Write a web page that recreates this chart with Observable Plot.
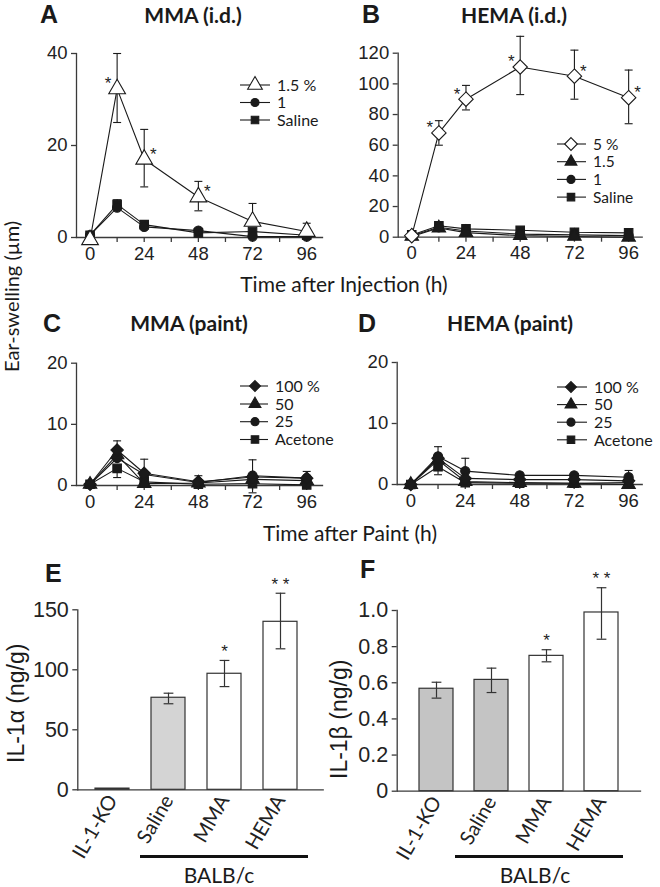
<!DOCTYPE html>
<html><head><meta charset="utf-8">
<script src="https://cdn.jsdelivr.net/npm/d3@7"></script>
<script src="https://cdn.jsdelivr.net/npm/@observablehq/plot@0.6"></script>
<style>
body{margin:0;background:#fff;}
#fig{position:relative;width:660px;height:887px;overflow:hidden;background:#fff;}
</style></head><body><div id="fig"></div>
<script>
// ---------- DATA ----------
const hours = [0, 12, 24, 48, 72, 96];
const xTicks = [0, 12, 24, 36, 48, 60, 72, 84, 96];

// A: MMA (i.d.)
const A_names = ["1.5 %", "1", "Saline"];
const A_15 = [-0.5, 32.3, 17.0, 8.8, 3.5, 1.3];
const A_15_hi = [null, 40, 23.5, 12.2, 7.4, 3.1];
const A_15_lo = [null, 25, 11, 5.8, null, null];
const A_1 = [0.5, 6.5, 2.3, 1.5, 0.2, 0.2];
const A_1_hi = [null, 7.6, 3.2, null, null, null];
const A_sal = [0.5, 7.2, 2.8, 1.0, 1.3, 0.5];
const A_sal_hi = [null, 8.2, null, null, null, null];
const A_sigLeft = [12], A_sigRight = [24, 48];
const A_yTicks = [0, 20, 40];

// B: HEMA (i.d.)
const B_names = ["5 %", "1.5", "1", "Saline"];
const B_5 = [1, 68, 90, 111, 105, 91];
const B_5_hi = [null, 76, 99, 131, 122, 109];
const B_5_lo = [null, 60, 83, 93, 90, 74];
const B_15 = [0.5, 6.0, 3.0, 1.0, 0.5, 0];
const B_1 = [1, 6.5, 4.0, 2.0, 1.5, 1.0];
const B_sal = [1.5, 7.5, 5.4, 4.5, 3.2, 2.8];
const B_sigLeft = [12, 24, 48], B_sigRight = [72, 96];
const B_yTicks = [0, 20, 40, 60, 80, 100, 120];

// C: MMA (paint)
const C_names = ["100 %", "50", "25", "Acetone"];
const C_100 = [0.2, 5.8, 2.0, 0.6, 1.4, 1.2];
const C_100_hi = [null, 7.3, 4.3, 1.6, 4.2, 2.3];
const C_50 = [0.2, 5.0, 0.3, 0.4, 1.0, 0.8];
const C_25 = [0.2, 4.5, 1.8, 0.5, 1.6, 1.2];
const C_ace = [0.2, 2.8, 0.6, 0.2, 0.3, 0.1];
const C_ace_lo = [null, 1.3, null, null, -1.2, null];

// D: HEMA (paint)
const D_names = ["100 %", "50", "25", "Acetone"];
const D_100 = [0, 4.3, 1.0, 0.8, 0.8, 0.6];
const D_100_hi = [null, 6.2, null, null, null, null];
const D_50 = [0, 4.0, 0.5, 0.3, 0.2, 0];
const D_25 = [0, 4.6, 2.2, 1.5, 1.5, 1.2];
const D_25_hi = [null, null, 4.3, null, null, 2.3];
const D_ace = [0, 2.9, 0.3, 0.2, 0.2, 0.3];
const D_ace_lo = [null, 1.6, null, null, null, null];
const CD_yTicks = [0, 10, 20];

// E, F: cytokines
const groups = ["IL-1-KO", "Saline", "MMA", "HEMA"];
const treatment = ["control", "control", "monomer", "monomer"];
const E_val = [1, 76.7, 96.7, 140];
const E_lo = [null, 71.7, 86, 117.5];
const E_hi = [null, 80.5, 107.8, 163.8];
const E_sig = ["", "", "*", "* *"];
const E_yTicks = [0, 50, 100, 150];
const F_val = [0.567, 0.616, 0.749, 0.989];
const F_lo = [0.515, 0.546, 0.716, 0.841];
const F_hi = [0.603, 0.681, 0.783, 1.126];
const F_sig = ["", "", "*", "* *"];
const F_yTicks = [0, 0.2, 0.4, 0.6, 0.8, 1.0];

// ---------- STYLE ----------
const AX = "#3a3a3a", LN = "#1a1a1a";
const TICKF = "'Liberation Sans', Arial, sans-serif";
const LABF = "Lato, 'Open Sans', sans-serif";
const capSym = {draw(ctx, size){ const w = Math.sqrt(size)/2; ctx.moveTo(-w,0); ctx.lineTo(w,0); }};
const SYM = {
  triOpen: {symbol:"triangle", r:6.2, fill:"#fff"},
  tri: {symbol:"triangle", r:5, fill:LN},
  circ: {symbol:"circle", r:4.6, fill:LN},
  sq: {symbol:"square", r:4.8, fill:LN},
  diaOpen: {symbol:"diamond2", r:6.5, fill:"#fff"},
  dia: {symbol:"diamond2", r:5.6, fill:LN}
};
const D3SYM = {triangle:d3.symbolTriangle, circle:d3.symbolCircle, square:d3.symbolSquare, diamond2:d3.symbolDiamond2};

const fig = document.getElementById("fig");
function place(el, left, top){ el.style.position="absolute"; el.style.left=left+"px"; el.style.top=top+"px"; fig.appendChild(el); }

function tcPanel(o){
  const marks = [
    Plot.frame({anchor:"left", stroke:AX, strokeWidth:1.3}),
    Plot.frame({anchor:"bottom", stroke:AX, strokeWidth:1.3}),
    Plot.axisY({ticks:o.yTicks, tickSize:5, tickPadding:4, label:null, fontSize:18.5, stroke:AX, strokeWidth:1.3}),
    Plot.axisX({ticks:xTicks, tickSize:5, tickPadding:4, label:null, fontSize:18.5, stroke:AX, strokeWidth:1.3,
      tickFormat: d => d % 24 === 0 ? String(d) : ""})
  ];
  const all = o.series.map(s => ({s, rows: hours.map((t,i) => ({t, v:s.v[i]}))}));
  all.forEach(({rows}) => marks.push(Plot.line(rows, {x:"t", y:"v", stroke:LN, strokeWidth:1.1})));
  all.forEach(({s}) => {
    const err = [], caps = [];
    hours.forEach((t,i) => {
      const lo = s.lo ? s.lo[i] : null, hi = s.hi ? s.hi[i] : null;
      if (lo != null || hi != null) {
        err.push({t, y1: lo != null ? lo : s.v[i], y2: hi != null ? hi : s.v[i]});
        if (lo != null) caps.push({t, y:lo});
        if (hi != null) caps.push({t, y:hi});
      }
    });
    marks.push(Plot.ruleX(err, {x:"t", y1:"y1", y2:"y2", stroke:LN, strokeWidth:1.1}));
    marks.push(Plot.dot(caps, {x:"t", y:"y", symbol:capSym, r:4.5, fill:"none", stroke:LN, strokeWidth:1.1}));
  });
  all.slice().reverse().forEach(({s, rows}) => marks.push(Plot.dot(rows, {x:"t", y:"v", symbol:s.m.symbol, r:s.m.r, fill:s.m.fill, stroke:LN, strokeWidth:1.1})));
  if (o.sigLeft) {
    const main = o.series[0].v;
    const pt = t => ({t, v: main[hours.indexOf(t)]});
    marks.push(Plot.text(o.sigLeft.map(pt), {x:"t", y:"v", text: () => "*", dx:-9, dy:-5, fontSize:17}));
    marks.push(Plot.text(o.sigRight.map(pt), {x:"t", y:"v", text: () => "*", dx:9, dy:-5, fontSize:17}));
  }
  const svg = Plot.plot({
    width:o.w, height:o.h, marginLeft:o.mL, marginRight:o.mR, marginTop:o.mT, marginBottom:o.mB,
    x:{domain:o.xDom}, y:{domain:o.yDom},
    style:{fontFamily:TICKF, fontSize:"18.5px", color:"#222", background:"transparent", overflow:"visible"},
    marks
  });
  place(svg, o.left, o.top);
}

function barPanel(o){
  const rows = groups.map((g,i) => ({g, kind:treatment[i], v:o.val[i], lo:o.lo[i], hi:o.hi[i], sig:o.sig[i]}));
  const err = rows.filter(d => d.lo != null);
  const caps = err.flatMap(d => [{g:d.g, y:d.lo}, {g:d.g, y:d.hi}]);
  const svg = Plot.plot({
    width:o.w, height:o.h, marginLeft:o.mL, marginRight:o.mR, marginTop:o.mT, marginBottom:o.mB,
    x:{type:"band", domain:groups, paddingInner:o.pi, paddingOuter:o.po, align:o.align},
    y:{domain:o.yDom},
    color:{type:"ordinal", domain:["control","monomer"], range:[o.gray, "#ffffff"]},
    style:{fontFamily:TICKF, fontSize:"21px", color:"#222", background:"transparent", overflow:"visible"},
    marks:[
      Plot.barY(rows, {x:"g", y:"v", fill:"kind", stroke:"#333", strokeWidth:1.2}),
      Plot.ruleX(err, {x:"g", y1:"lo", y2:"hi", stroke:"#333", strokeWidth:1.2}),
      Plot.dot(caps, {x:"g", y:"y", symbol:capSym, r:5.5, fill:"none", stroke:"#333", strokeWidth:1.2}),
      Plot.text(rows.filter(d => d.sig), {x:"g", y:"hi", text:"sig", dy:-9, fontSize:17}),
      Plot.frame({anchor:"left", stroke:AX, strokeWidth:1.3}),
      Plot.frame({anchor:"bottom", stroke:AX, strokeWidth:1.3}),
      Plot.axisY({ticks:o.yTicks, tickFormat:o.fmt, tickSize:5, tickPadding:4, label:null, fontSize:21.5, stroke:AX, strokeWidth:1.3}),
      Plot.axisX({tickSize:0, tickPadding:7, tickRotate:-60, label:null, fontSize:20, fontFamily:LABF})
    ]
  });
  place(svg, o.left, o.top);
}

tcPanel({left:0, top:0, w:330, h:270, mL:76, mR:8, mT:53, mB:33, xDom:[-6,103], yDom:[0,40], yTicks:A_yTicks,
  series:[{v:A_15, hi:A_15_hi, lo:A_15_lo, m:SYM.triOpen}, {v:A_1, hi:A_1_hi, m:SYM.circ}, {v:A_sal, hi:A_sal_hi, m:SYM.sq}],
  sigLeft:A_sigLeft, sigRight:A_sigRight});
tcPanel({left:330, top:0, w:330, h:270, mL:67.7, mR:18.3, mT:52.7, mB:33.3, xDom:[-6,102], yDom:[0,120], yTicks:B_yTicks,
  series:[{v:B_5, hi:B_5_hi, lo:B_5_lo, m:SYM.diaOpen}, {v:B_15, m:SYM.tri}, {v:B_1, m:SYM.circ}, {v:B_sal, m:SYM.sq}],
  sigLeft:B_sigLeft, sigRight:B_sigRight});
tcPanel({left:0, top:300, w:330, h:220, mL:76, mR:8, mT:62.7, mB:35, xDom:[-6,103], yDom:[0,20], yTicks:CD_yTicks,
  series:[{v:C_100, hi:C_100_hi, m:SYM.dia}, {v:C_50, m:SYM.tri}, {v:C_25, m:SYM.circ}, {v:C_ace, lo:C_ace_lo, m:SYM.sq}]});
tcPanel({left:330, top:300, w:330, h:220, mL:66.7, mR:18.3, mT:62, mB:36, xDom:[-6,102], yDom:[0,20], yTicks:CD_yTicks,
  series:[{v:D_100, hi:D_100_hi, m:SYM.dia}, {v:D_50, m:SYM.tri}, {v:D_25, hi:D_25_hi, m:SYM.circ}, {v:D_ace, lo:D_ace_lo, m:SYM.sq}]});

barPanel({left:0, top:580, w:330, h:307, mL:77.3, mR:7.3, mT:29.3, mB:97.7, pi:0.4, po:0.37, align:0.4,
  yDom:[0,150], yTicks:E_yTicks, fmt: d => String(d), val:E_val, lo:E_lo, hi:E_hi, sig:E_sig, gray:"#d4d4d4"});
barPanel({left:330, top:580, w:330, h:307, mL:66.7, mR:20, mT:30, mB:96.3, pi:0.383, po:0.4, align:0.5,
  yDom:[0,1], yTicks:F_yTicks, fmt: d => d === 0 ? "0" : d.toFixed(1), val:F_val, lo:F_lo, hi:F_hi, sig:F_sig, gray:"#c4c4c4"});

// ---------- OVERLAY TEXT & LEGENDS ----------
const ov = d3.create("svg").attr("width",660).attr("height",887).style("pointer-events","none").style("overflow","visible");
function txt(x, y, s, opt){
  const t = ov.append("text").attr("x",x).attr("y",y).text(s)
    .attr("font-family", opt.font || LABF).attr("font-size", opt.size).attr("fill","#1a1a1a")
    .attr("font-weight", opt.bold ? "bold" : null).attr("text-anchor", opt.anchor || "start");
  if (opt.rot) t.attr("transform", `rotate(${opt.rot},${x},${y})`);
  return t;
}
// panel letters
[["A",40,23],["B",362,23],["C",43,332],["D",358,332],["E",45,582],["F",360,578]].forEach(([s,x,y]) => txt(x,y,s,{font:TICKF,size:25,bold:true}));
// titles
txt(193,23,"MMA (i.d.)",{size:21,bold:true,anchor:"middle"});
txt(514,23,"HEMA (i.d.)",{size:21,bold:true,anchor:"middle"});
txt(189,331,"MMA (paint)",{size:21,bold:true,anchor:"middle"});
txt(510,331,"HEMA (paint)",{size:21,bold:true,anchor:"middle"});
// axis titles
txt(344,292,"Time after Injection (h)",{size:21,anchor:"middle"});
txt(350,541,"Time after Paint (h)",{size:21,anchor:"middle"});
txt(19,372,"Ear-swelling (µm)",{size:20,rot:-90});
txt(23.5,763,"IL-1α (ng/g)",{font:TICKF,size:23,rot:-90});
txt(346.5,779,"IL-1β (ng/g)",{font:TICKF,size:23,rot:-90});
// BALB/c group bars
ov.append("line").attr("x1",140).attr("x2",308).attr("y1",856.5).attr("y2",856.5).attr("stroke","#111").attr("stroke-width",3);
ov.append("line").attr("x1",455).attr("x2",623).attr("y1",856.5).attr("y2",856.5).attr("stroke","#111").attr("stroke-width",3);
txt(219,883,"BALB/c",{size:21,anchor:"middle"});
txt(535,883,"BALB/c",{size:21,anchor:"middle"});

function legend(x0, x1, xm, xt, ys, names, marks, fs){
  names.forEach((n,i) => {
    const y = ys[i];
    ov.append("line").attr("x1",x0).attr("x2",x1).attr("y1",y).attr("y2",y).attr("stroke",LN).attr("stroke-width",1.1);
    const m = marks[i];
    const r = m.r * 0.88;
    ov.append("path").attr("d", d3.symbol(D3SYM[m.symbol], Math.PI*r*r)()).attr("transform",`translate(${xm},${y})`)
      .attr("fill", m.fill).attr("stroke", LN).attr("stroke-width",1.1);
    txt(xt, y + fs*0.36, n, {size:fs});
  });
}
legend(240,270,255,277,[85,102.5,120],A_names,[SYM.triOpen,SYM.circ,SYM.sq],16);
legend(557,586,571,593,[144,161.7,179.4,197.1],B_names,[SYM.diaOpen,SYM.tri,SYM.circ,SYM.sq],15.5);
legend(240,268,255,275,[386,404,421.7,439.5],C_names,[SYM.dia,SYM.tri,SYM.circ,SYM.sq],16);
legend(557,587,571,594,[387,404.6,422.2,439.8],D_names,[SYM.dia,SYM.tri,SYM.circ,SYM.sq],16);

place(ov.node(), 0, 0);
</script></body></html>
